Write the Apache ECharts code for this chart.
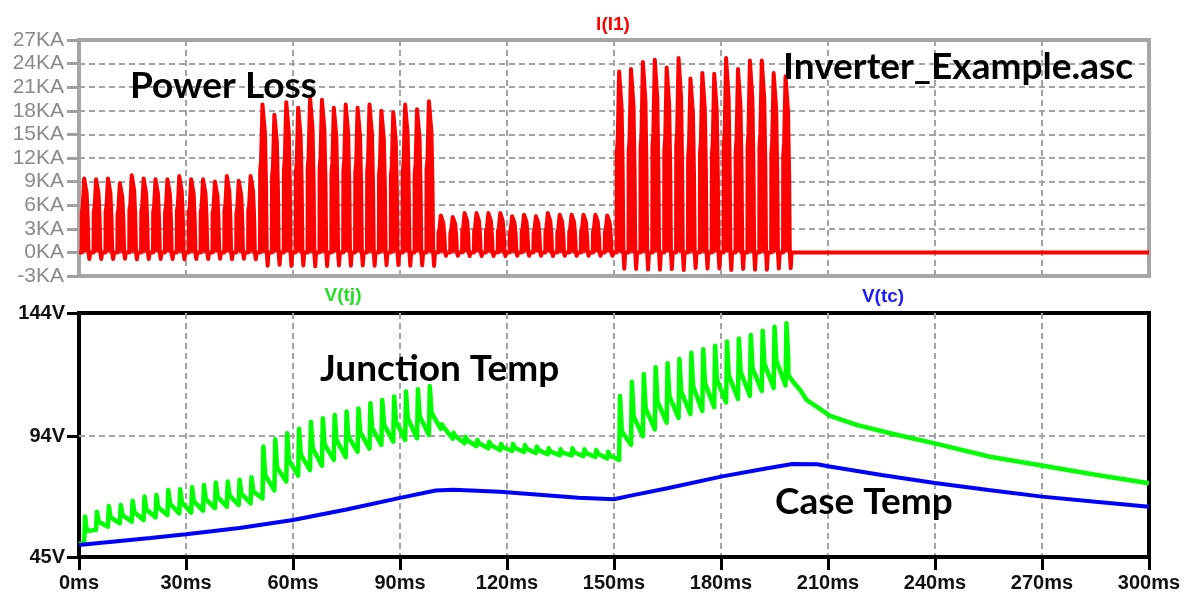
<!DOCTYPE html>
<html><head><meta charset="utf-8">
<script src="https://cdn.jsdelivr.net/npm/echarts@6/dist/echarts.min.js"></script>
<style>html,body{margin:0;padding:0;background:#fff}#c{width:1189px;height:596px}</style>
</head><body><div id="c"></div>
<script>
// ---- data ----
const pulsePeriodMs = 3.333;
const firstPulseMs = 1.7;
// peak of each power-loss pulse (KA), one per switching period
const powerLossPeaksKA = [
  9.4, 9.3, 9.4, 8.8, 9.8, 9.4, 9.3, 9.3, 9.7, 9.3, 9.3, 9.0, 9.7, 9.1, 9.7,
  18.8, 17.5, 19.1, 18.4, 19.7, 19.4, 18.4, 18.8, 18.4, 18.8, 18.0, 17.8, 18.8, 18.2, 19.2,
  4.7, 4.5, 5.0, 5.0, 5.0, 5.0, 4.6, 4.8, 4.6, 5.0, 4.8, 4.8, 4.8, 4.8, 4.7,
  23.0, 23.3, 24.2, 24.5, 23.5, 24.7, 22.1, 22.8, 22.7, 24.7, 23.3, 24.4, 24.4, 22.8, 22.4
];
// shape of one pulse: time offsets from its peak (ms) and fraction of its peak
const pulseShapeOffsetsMs = [-0.95, -0.9, -0.65, -0.25, 0.25, 0.45, 0.75, 0.95, 1.2, 1.45];
const pulseShapeFractions = [0, 0.55, 0.62, 1.0, 1.0, 0.8, 0.45, 0, -0.09, 0];

// junction temperature V(tj): spike tops and the level just before each spike
const tjPeaksV = [
  61.4, 63.4, 65.7, 66.1, 67.8, 69.5, 70.2, 72.2, 72.5, 73.3, 74.2, 75.2, 75.6, 76.3, 77.4,
  89.8, 92.8, 95.2, 97.0, 99.9, 101.3, 102.6, 104.0, 105.3, 107.4, 108.7, 110.1, 112.1, 113.1, 114.4,
  98.8, 95.4, 93.8, 92.5, 91.8, 90.9, 90.9, 90.4, 89.8, 89.1, 88.7, 89.1, 88.7, 88.4, 87.7,
  110.3, 116.1, 119.3, 122.0, 123.6, 125.3, 127.9, 129.3, 130.7, 132.4, 133.7, 135.1, 136.8, 138.4, 139.8
];
const tjValleysV = [
  50.8, 56.0, 57.3, 58.7, 59.3, 60.0, 61.1, 62.0, 62.7, 63.0, 63.8, 64.8, 65.4, 66.1, 66.8,
  68.8, 72.0, 75.6, 78.0, 80.3, 82.0, 84.4, 85.5, 87.7, 89.0, 90.5, 91.8, 92.5, 93.2, 94.5,
  97.0, 93.0, 91.2, 90.0, 89.1, 88.4, 88.0, 87.6, 87.2, 86.7, 86.3, 86.2, 85.9, 85.6, 85.0,
  84.4, 90.5, 94.0, 96.8, 99.5, 101.4, 103.0, 104.3, 105.8, 107.7, 109.1, 110.4, 112.4, 113.6, 114.6
];
const tjSpikeOffsetsMs = [-0.25, 0, 0.15, 0.5];
const tjSpikeFractions = [0, 1, 1, 0.45];
const tjStart = [[0, 50.3]];
const tjCoolingTail = [
  [198.9, 118.8], [200.2, 116.1], [202.2, 112.8], [204.0, 108.7], [206.8, 106.0],
  [210.6, 102.3], [218.0, 98.6], [227.4, 95.2], [240.5, 90.9], [255.4, 85.7],
  [270.3, 82.0], [285.4, 78.3], [300.0, 74.9]
];
// case temperature V(tc)
const tcPoints = [
  [0, 49.9], [10, 51.3], [20, 52.7], [30, 54.2], [45, 56.8], [60, 60.0], [75, 64.3],
  [90, 69.0], [100, 72.0], [105, 72.3], [118, 71.5], [130, 70.2], [140, 69.0], [150, 68.4],
  [155, 70.0], [165, 72.9], [180, 77.6], [193, 81.0], [200, 82.7], [207, 82.6], [210, 81.8],
  [225, 78.3], [240, 75.0], [255, 72.2], [270, 69.5], [285, 67.4], [300, 65.4]
];
const timeTicksMs = [0, 30, 60, 90, 120, 150, 180, 210, 240, 270, 300];
const powerTicksKA = [-3, 0, 3, 6, 9, 12, 15, 18, 21, 24, 27];
const tempTicksV = [45, 94, 144];

// ---- build series from the arrays ----
const powerData = [[0, 0]];
powerLossPeaksKA.forEach((p, k) => {
  const tk = firstPulseMs + k * pulsePeriodMs;
  pulseShapeOffsetsMs.forEach((o, i) => powerData.push([tk + o, p * pulseShapeFractions[i]]));
});
powerData.push([300, 0]);

const tjData = tjStart.slice();
tjPeaksV.forEach((pk, k) => {
  const tk = firstPulseMs + k * pulsePeriodMs;
  const v0 = tjValleysV[k];
  tjSpikeOffsetsMs.forEach((o, i) => tjData.push([tk + o, v0 + (pk - v0) * tjSpikeFractions[i]]));
});
tjCoolingTail.forEach(p => tjData.push(p));

const chart = echarts.init(document.getElementById('c'), null, {renderer: 'canvas'});
const gridDash = {color: '#a3a3a3', type: [6, 4], width: 2};
chart.setOption({
  animation: false,
  backgroundColor: '#ffffff',
  grid: [
    {left: 79, right: 40, top: 40, height: 236, show: true, borderColor: '#a6a6a6', borderWidth: 4, backgroundColor: 'transparent'},
    {left: 79, right: 40, top: 313, height: 244, show: true, borderColor: '#000000', borderWidth: 4, backgroundColor: 'transparent'}
  ],
  xAxis: [
    {gridIndex: 0, type: 'value', min: timeTicksMs[0], max: timeTicksMs[timeTicksMs.length - 1], interval: 30,
     axisLabel: {show: false}, axisTick: {show: false},
     axisLine: {show: true, onZero: false, lineStyle: {color: '#a6a6a6', width: 4}},
     splitLine: {show: true, showMinLine: false, showMaxLine: false, lineStyle: gridDash}},
    {gridIndex: 1, type: 'value', min: timeTicksMs[0], max: timeTicksMs[timeTicksMs.length - 1], interval: 30,
     axisLabel: {show: true, formatter: '{value}ms', color: '#111', fontSize: 20, fontWeight: 'bold', fontFamily: 'Liberation Sans', margin: 16},
     axisTick: {show: true, length: 13, lineStyle: {color: '#000', width: 3}},
     axisLine: {show: true, onZero: false, lineStyle: {color: '#000', width: 4}},
     splitLine: {show: true, showMinLine: false, showMaxLine: false, lineStyle: gridDash}}
  ],
  yAxis: [
    {gridIndex: 0, type: 'value', min: powerTicksKA[0], max: powerTicksKA[powerTicksKA.length - 1], interval: 3,
     axisLabel: {formatter: '{value}KA', color: '#8a8a8a', fontSize: 21, fontFamily: 'Liberation Sans', margin: 15},
     axisTick: {show: true, length: 12, lineStyle: {color: '#a0a0a0', width: 3}},
     axisLine: {show: true, onZero: false, lineStyle: {color: '#a6a6a6', width: 4}},
     splitLine: {show: true, showMinLine: false, showMaxLine: false, lineStyle: gridDash}},
    {gridIndex: 1, type: 'value', min: tempTicksV[0], max: tempTicksV[tempTicksV.length - 1],
     axisLabel: {customValues: tempTicksV, formatter: '{value}V', color: '#111', fontSize: 20, fontWeight: 'bold', fontFamily: 'Liberation Sans', margin: 14},
     axisTick: {show: true, customValues: tempTicksV, length: 12, lineStyle: {color: '#000', width: 3}},
     axisLine: {show: true, onZero: false, lineStyle: {color: '#000', width: 4}},
     splitLine: {show: false}}
  ],
  series: [
    {name: 'I(I1)', type: 'line', xAxisIndex: 0, yAxisIndex: 0, data: powerData, showSymbol: false,
     sampling: 'none', lineStyle: {color: '#ff0000', width: 4, join: 'round'},
     areaStyle: {color: '#ff0000', opacity: 1, origin: 0}, z: 3},
    {name: 'V(tj)', type: 'line', xAxisIndex: 1, yAxisIndex: 1, data: tjData, showSymbol: false,
     sampling: 'none', lineStyle: {color: '#00ff00', width: 4.5, join: 'round'}, z: 3},
    {name: 'V(tc)', type: 'line', xAxisIndex: 1, yAxisIndex: 1, data: tcPoints, showSymbol: false,
     lineStyle: {color: '#0000ff', width: 4}, z: 4,
     markLine: {silent: true, symbol: 'none', label: {show: false},
       lineStyle: {color: '#a3a3a3', type: [6, 4], width: 2}, data: [{yAxis: tempTicksV[1]}], z: 1}}
  ],
  graphic: [
    {type: 'text', x: 613, y: 25, style: {text: 'I(I1)', fill: '#ff0000', font: 'bold 19px "Liberation Sans"', textAlign: 'center', textVerticalAlign: 'middle'}},
    {type: 'text', x: 343, y: 296, style: {text: 'V(tj)', fill: '#22e022', font: 'bold 19px "Liberation Sans"', textAlign: 'center', textVerticalAlign: 'middle'}},
    {type: 'text', x: 883, y: 297, style: {text: 'V(tc)', fill: '#1a1aff', font: 'bold 19px "Liberation Sans"', textAlign: 'center', textVerticalAlign: 'middle'}},
    {type: 'text', x: 130, y: 86, z: 10, style: {text: 'Power Loss', fill: '#000', font: 'bold 37px Lato', textAlign: 'left', textVerticalAlign: 'middle'}},
    {type: 'text', x: 783, y: 67, z: 10, style: {text: 'Inverter_Example.asc', fill: '#000', font: 'bold 37px Lato', textAlign: 'left', textVerticalAlign: 'middle'}},
    {type: 'text', x: 320, y: 369, z: 10, style: {text: 'Junction Temp', fill: '#000', font: 'bold 37px Lato', textAlign: 'left', textVerticalAlign: 'middle'}},
    {type: 'text', x: 775, y: 502, z: 10, style: {text: 'Case Temp', fill: '#000', font: 'bold 37px Lato', textAlign: 'left', textVerticalAlign: 'middle'}}
  ]
});
</script>
</body></html>
